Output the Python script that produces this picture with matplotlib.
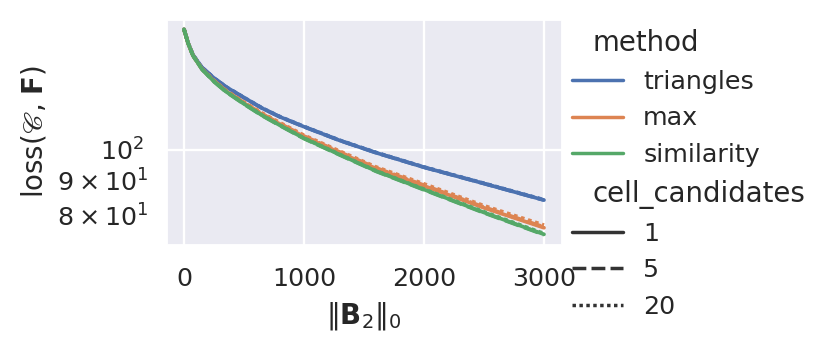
import matplotlib.pyplot as plt
import seaborn as sns
from matplotlib.lines import Line2D

# values (loss on a log axis)
steps = [0, 35, 75, 150, 250, 350, 500, 650, 800, 1000, 1300, 1600, 2000, 2500, 3000]

methods = ["triangles", "max", "similarity"]
cell_candidates = ["1", "5", "20"]

triangles_1 = [151.0, 144.0, 138.3, 132.5, 127.8, 124.0, 119.5, 115.3, 111.9, 108.2, 103.2, 99.0, 94.2, 89.1, 84.2]
triangles_5 = [151.0, 144.0, 138.3, 132.5, 127.8, 124.0, 119.5, 115.3, 111.9, 108.2, 103.2, 99.0, 94.2, 89.1, 84.2]
triangles_20 = [151.0, 144.0, 138.3, 132.5, 127.8, 124.0, 119.6, 115.4, 112.0, 108.3, 103.3, 99.1, 94.3, 89.2, 84.3]

max_1 = [151.0, 143.8, 138.0, 131.8, 126.5, 122.2, 117.3, 112.9, 109.2, 104.6, 99.0, 93.8, 88.4, 82.0, 76.6]
max_5 = [151.0, 143.8, 138.0, 131.8, 126.6, 122.3, 117.5, 113.1, 109.4, 104.8, 99.2, 94.0, 88.6, 82.2, 76.8]
max_20 = [151.0, 143.9, 138.1, 131.9, 126.7, 122.5, 117.7, 113.4, 109.7, 105.1, 99.5, 94.3, 89.0, 82.6, 77.3]

similarity_1 = [151.0, 143.8, 138.0, 131.7, 126.3, 122.0, 117.0, 112.5, 108.7, 104.0, 98.3, 93.0, 87.3, 80.7, 74.9]
similarity_5 = [151.0, 143.8, 138.0, 131.7, 126.2, 121.9, 116.9, 112.4, 108.6, 103.9, 98.2, 92.9, 87.2, 80.6, 74.8]
similarity_20 = [151.0, 143.8, 138.0, 131.7, 126.4, 122.1, 117.1, 112.6, 108.8, 104.1, 98.4, 93.1, 87.4, 80.9, 75.1]

series = {
    "triangles": [triangles_1, triangles_5, triangles_20],
    "max": [max_1, max_5, max_20],
    "similarity": [similarity_1, similarity_5, similarity_20],
}

sns.set_theme(style="darkgrid")
colors = sns.color_palette("deep", 3)
dash_styles = [None, (4, 1.5), (1, 1)]

fig = plt.figure(figsize=(832 / 166, 351 / 166), dpi=166)
ax = fig.add_axes([0.1995, 0.302, 0.476, 0.644])

for method, color in zip(methods, colors):
    for vals, dashes in zip(series[method], dash_styles):
        if dashes is None:
            ax.plot(steps, vals, color=color, lw=1.6)
        else:
            ax.plot(steps, vals, color=color, lw=1.6, dashes=dashes)

ax.set_yscale("log")
ax.set_xlabel(r"$\|\mathbf{B}_2\|_0$")
ax.set_ylabel(r"loss($\mathscr{C}$, $\mathbf{F}$)")

# legend with seaborn-like subtitles
handles = [Line2D([], [], visible=False)]
handles += [Line2D([], [], color=c, lw=1.5) for c in colors]
handles += [Line2D([], [], visible=False)]
for d in dash_styles:
    if d is None:
        handles.append(Line2D([], [], color=".2", lw=1.5))
    else:
        handles.append(Line2D([], [], color=".2", lw=1.5, dashes=d))
labels = ["method"] + methods + ["cell_candidates"] + cell_candidates

leg = ax.legend(handles, labels, loc="upper left", bbox_to_anchor=(1, 1),
                frameon=False, borderaxespad=0)
for hpack in leg._legend_handle_box.get_children()[0].get_children():
    draw_area, text_area = hpack.get_children()
    if not all(a.get_visible() for a in draw_area.get_children()):
        draw_area.set_width(0)
        for t in text_area.get_children():
            t.set_size(12)

fig.savefig("out.png", dpi=166)
